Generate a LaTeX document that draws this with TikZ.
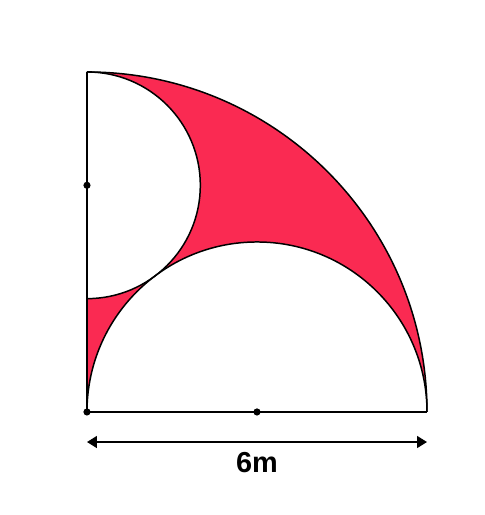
\documentclass[tikz,border=0pt]{standalone}
\usepackage{fontspec}
\setmainfont{Liberation Sans}
\usetikzlibrary{arrows.meta}
\definecolor{crimsonfill}{HTML}{FA2A52}
\tikzset{
  outline/.style={line width=0.75pt, draw=black},
  dot/.style={circle, fill=black, inner sep=0pt, minimum size=3.6pt},
  dim/.style={line width=0.75pt, {Triangle[length=5pt,width=6pt]}-{Triangle[length=5pt,width=6pt]}}
}
\begin{document}
\begin{tikzpicture}
\useasboundingbox (-1.535,-1.818) rectangle (7.023,7.27);
% shaded region
\fill[crimsonfill] (0,0) -- (6,0) arc[start angle=0,end angle=90,radius=6] -- cycle;
\fill[white] (0,0) arc[start angle=180,end angle=0,radius=3] -- cycle;
\fill[white] (0,6) arc[start angle=90,end angle=-90,radius=2] -- cycle;
% outlines
\coordinate (O) at (0,0);
\coordinate (M) at (3,0);
\coordinate (E) at (6,0);
\coordinate (T) at (0,6);
\coordinate (C) at (0,4);
\draw[outline] (E) arc[start angle=0,end angle=90,radius=6];
\draw[outline] (O) arc[start angle=180,end angle=0,radius=3];
\draw[outline] (T) arc[start angle=90,end angle=-90,radius=2];
\draw[outline] (O) -- (T);
\draw[outline] (O) -- (E);
\node[dot] at (O) {};
\node[dot] at (M) {};
\node[dot] at (C) {};
% dimension
\coordinate (L) at (0,-0.53);
\coordinate (R) at (6,-0.53);
\draw[dim] (L) -- (R);
\node (lbl) at (3,-0.9) {\fontsize{14.5}{16}\selectfont\bfseries 6m};
\end{tikzpicture}
\end{document}
